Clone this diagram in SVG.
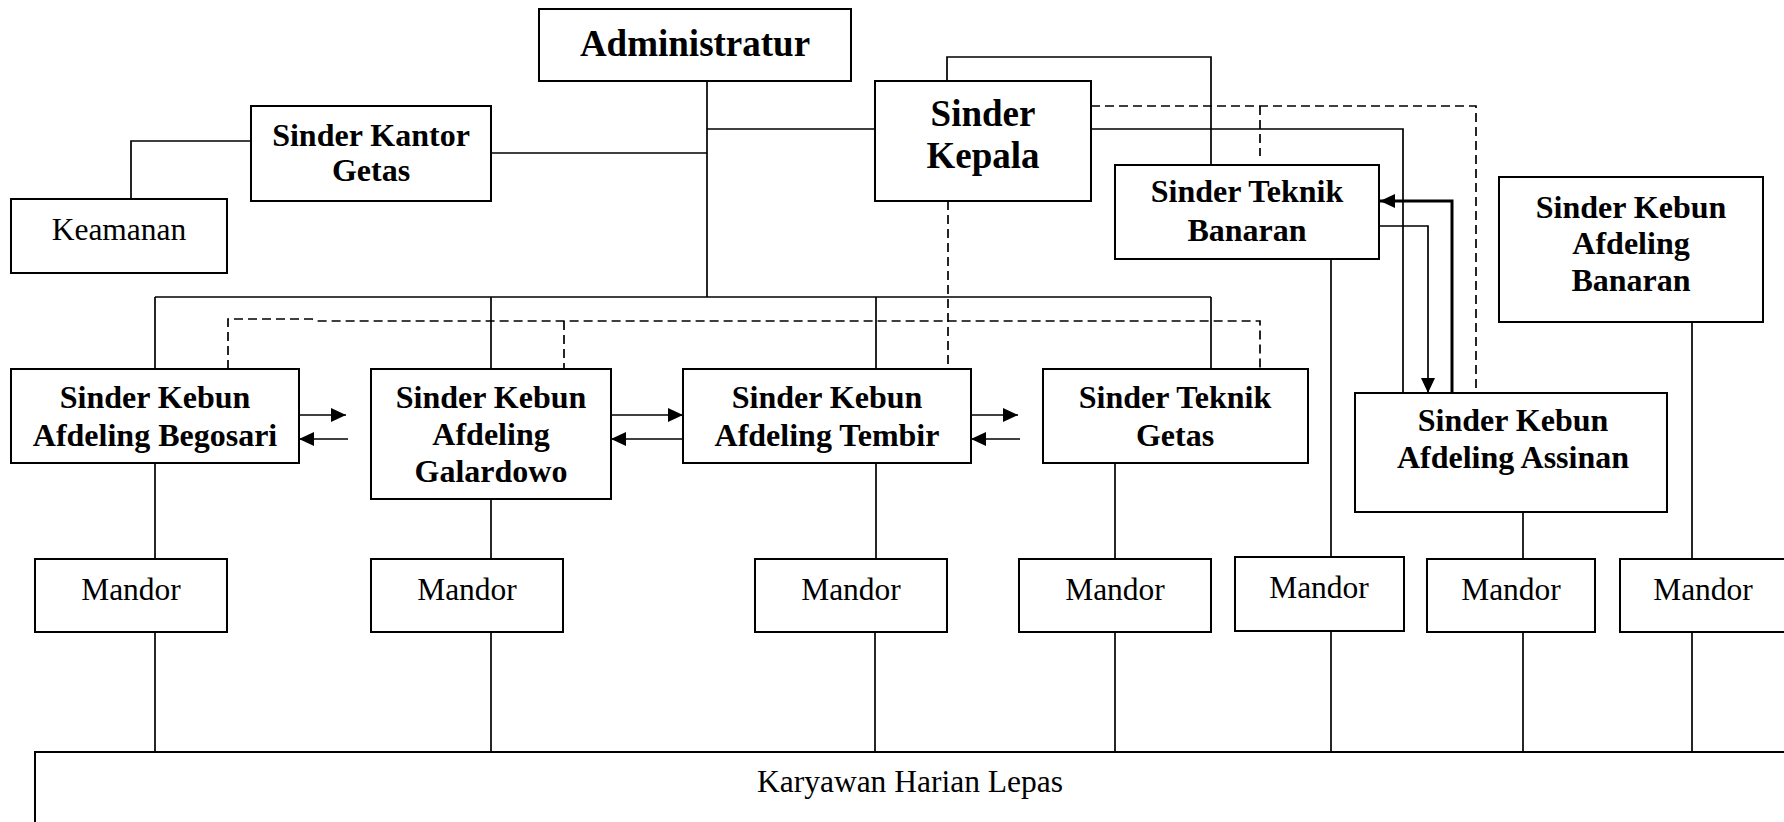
<svg xmlns="http://www.w3.org/2000/svg" width="1784" height="822" viewBox="0 0 1784 822">
<style>
.box{fill:#fff;stroke:#000;stroke-width:2}
.ln{fill:none;stroke:#000;stroke-width:1.7}
.dl{fill:none;stroke:#000;stroke-width:1.7;stroke-dasharray:9 5}
.b{font-family:"Liberation Serif","Times New Roman",serif;font-weight:bold;font-size:32px;text-anchor:middle;fill:#000}
.bl{font-family:"Liberation Serif","Times New Roman",serif;font-weight:bold;font-size:37px;text-anchor:middle;fill:#000}
.r{font-family:"Liberation Serif","Times New Roman",serif;font-size:31.5px;text-anchor:middle;fill:#000}
</style>
<defs>
<marker id="ah" markerUnits="userSpaceOnUse" markerWidth="16" markerHeight="14" refX="15" refY="7" orient="auto">
<path d="M0,0 L15,7 L0,14 Z" fill="#000"/>
</marker>
</defs>
<rect width="1784" height="822" fill="#fff"/>
<g id="connectors">
<!-- admin tree -->
<polyline class="ln" points="707,81 707,297"/>
<polyline class="ln" points="707,129 875,129"/>
<polyline class="ln" points="491,153 707,153"/>
<polyline class="ln" points="251,141 131,141 131,199"/>
<polyline class="ln" points="155,297 1211,297"/>
<polyline class="ln" points="155,297 155,369"/>
<polyline class="ln" points="491,297 491,369"/>
<polyline class="ln" points="876,297 876,369"/>
<polyline class="ln" points="1211,297 1211,369"/>
<!-- kepala links -->
<polyline class="ln" points="947,81 947,57 1211,57 1211,165"/>
<polyline class="ln" points="1091,129 1403,129 1403,393"/>
<polyline class="dl" points="1091,106 1476,106 1476,393"/>
<polyline class="dl" points="1260,106 1260,156"/>
<polyline class="dl" points="948,201 948,369"/>
<polyline class="dl" points="228,369 228,319 312,319 317,321 1260,321 1260,369"/>
<polyline class="dl" points="564,321 564,369"/>
<!-- teknik banaran / assinan arrows -->
<polyline class="ln" points="1379,226 1428,226 1428,393" marker-end="url(#ah)"/>
<polyline class="ln" style="stroke-width:3" points="1452,393 1452,201 1380,201" marker-end="url(#ah)"/>
<!-- horizontal arrows -->
<line class="ln" x1="299" y1="415" x2="346" y2="415" marker-end="url(#ah)"/>
<line class="ln" x1="348" y1="439" x2="299" y2="439" marker-end="url(#ah)"/>
<line class="ln" x1="611" y1="415" x2="683" y2="415" marker-end="url(#ah)"/>
<line class="ln" x1="683" y1="439" x2="611" y2="439" marker-end="url(#ah)"/>
<line class="ln" x1="971" y1="415" x2="1018" y2="415" marker-end="url(#ah)"/>
<line class="ln" x1="1020" y1="439" x2="971" y2="439" marker-end="url(#ah)"/>
<!-- to mandor -->
<line class="ln" x1="155" y1="463" x2="155" y2="559"/>
<line class="ln" x1="491" y1="499" x2="491" y2="559"/>
<line class="ln" x1="876" y1="463" x2="876" y2="559"/>
<line class="ln" x1="1115" y1="463" x2="1115" y2="559"/>
<line class="ln" x1="1331" y1="259" x2="1331" y2="557"/>
<line class="ln" x1="1523" y1="512" x2="1523" y2="559"/>
<line class="ln" x1="1692" y1="322" x2="1692" y2="559"/>
<!-- mandor to karyawan -->
<line class="ln" x1="155" y1="632" x2="155" y2="752"/>
<line class="ln" x1="491" y1="632" x2="491" y2="752"/>
<line class="ln" x1="875" y1="632" x2="875" y2="752"/>
<line class="ln" x1="1115" y1="632" x2="1115" y2="752"/>
<line class="ln" x1="1331" y1="631" x2="1331" y2="752"/>
<line class="ln" x1="1523" y1="632" x2="1523" y2="752"/>
<line class="ln" x1="1692" y1="632" x2="1692" y2="752"/>
</g>
<g id="administratur"><rect class="box" x="539" y="9" width="312" height="72"/><text class="bl" x="695" y="56">Administratur</text></g>
<g id="sinder-kantor"><rect class="box" x="251" y="106" width="240" height="95"/><text class="b" x="371" y="146">Sinder Kantor</text><text class="b" x="371" y="181">Getas</text></g>
<g id="keamanan"><rect class="box" x="11" y="199" width="216" height="74"/><text class="r" x="119" y="240">Keamanan</text></g>
<g id="sinder-kepala"><rect class="box" x="875" y="81" width="216" height="120"/><text class="bl" x="983" y="126">Sinder</text><text class="bl" x="983" y="168">Kepala</text></g>
<g id="teknik-banaran"><rect class="box" x="1115" y="165" width="264" height="94"/><text class="b" x="1247" y="202">Sinder Teknik</text><text class="b" x="1247" y="241">Banaran</text></g>
<g id="kebun-banaran"><rect class="box" x="1499" y="177" width="264" height="145"/><text class="b" x="1631" y="218">Sinder Kebun</text><text class="b" x="1631" y="254">Afdeling</text><text class="b" x="1631" y="291">Banaran</text></g>
<g id="begosari"><rect class="box" x="11" y="369" width="288" height="94"/><text class="b" x="155" y="408">Sinder Kebun</text><text class="b" x="155" y="446">Afdeling Begosari</text></g>
<g id="galardowo"><rect class="box" x="371" y="369" width="240" height="130"/><text class="b" x="491" y="408">Sinder Kebun</text><text class="b" x="491" y="445">Afdeling</text><text class="b" x="491" y="482">Galardowo</text></g>
<g id="tembir"><rect class="box" x="683" y="369" width="288" height="94"/><text class="b" x="827" y="408">Sinder Kebun</text><text class="b" x="827" y="446">Afdeling Tembir</text></g>
<g id="teknik-getas"><rect class="box" x="1043" y="369" width="265" height="94"/><text class="b" x="1175" y="408">Sinder Teknik</text><text class="b" x="1175" y="446">Getas</text></g>
<g id="assinan"><rect class="box" x="1355" y="393" width="312" height="119"/><text class="b" x="1513" y="431">Sinder Kebun</text><text class="b" x="1513" y="468">Afdeling Assinan</text></g>
<g id="mandor-1"><rect class="box" x="35" y="559" width="192" height="73"/><text class="r" x="131" y="600">Mandor</text></g>
<g id="mandor-2"><rect class="box" x="371" y="559" width="192" height="73"/><text class="r" x="467" y="600">Mandor</text></g>
<g id="mandor-3"><rect class="box" x="755" y="559" width="192" height="73"/><text class="r" x="851" y="600">Mandor</text></g>
<g id="mandor-4"><rect class="box" x="1019" y="559" width="192" height="73"/><text class="r" x="1115" y="600">Mandor</text></g>
<g id="mandor-5"><rect class="box" x="1235" y="557" width="169" height="74"/><text class="r" x="1319" y="598">Mandor</text></g>
<g id="mandor-6"><rect class="box" x="1427" y="559" width="168" height="73"/><text class="r" x="1511" y="600">Mandor</text></g>
<g id="mandor-7"><rect class="box" x="1620" y="559" width="170" height="73"/><text class="r" x="1703" y="600">Mandor</text></g>
<g id="karyawan"><rect class="box" x="35" y="752" width="1760" height="90"/><text class="r" x="910" y="792">Karyawan Harian Lepas</text></g>
</svg>
